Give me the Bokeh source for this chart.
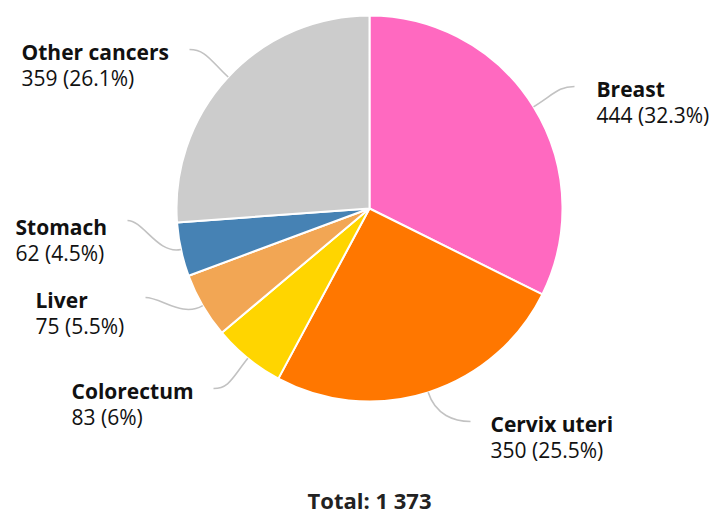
import math
from bokeh.plotting import figure
from bokeh.models import Range1d
from bokeh.embed import file_html
from bokeh.resources import INLINE
from bokeh.core.properties import value

# ---- data ----
categories = ["Breast", "Cervix uteri", "Colorectum", "Liver", "Stomach", "Other cancers"]
counts = [444, 350, 83, 75, 62, 359]
colors = ["#ff69c0", "#ff7700", "#ffd500", "#f2a654", "#4682b4", "#cccccc"]
total_prefix = "Total: "

# ---- layout (screen px) ----
W, H = 711, 516
CX, CY, R = 369, 208, 193
# text_x, name baseline y, connector end x, connector end y
label_layout = [
    (596, 88, 574, 86),
    (490, 423, 470, 421),
    (71, 390, 213, 388),
    (35, 299, 145, 297),
    (15, 226, 127, 220),
    (21, 51, 189, 49),
]
LINE_GAP = 26
FONT = "Open Sans"


def dx(sx):
    return sx


def dy(sy):
    return H - sy


total = sum(counts)


def fmt_pct(v):
    p = round(v / total * 100, 1)
    s = f"{p:.1f}"
    if s.endswith(".0"):
        s = s[:-2]
    return s + "%"


def fmt_total(n):
    s = f"{n:,}".replace(",", " ")
    return s


p = figure(width=W, height=H, output_backend="svg", toolbar_location=None,
           x_range=Range1d(0, W), y_range=Range1d(0, H), min_border=0)
p.axis.visible = False
p.grid.visible = False
p.outline_line_color = None
p.background_fill_color = "white"

starts, ends = [], []
cum = 0
for c in counts:
    a0 = math.pi / 2 - 2 * math.pi * cum / total
    cum += c
    a1 = math.pi / 2 - 2 * math.pi * cum / total
    starts.append(a0)
    ends.append(a1)

p.wedge(x=[dx(CX)] * len(counts), y=[dy(CY)] * len(counts), radius=R,
        start_angle=starts, end_angle=ends, direction="clock",
        fill_color=colors, line_color="white", line_width=2)

# connectors and labels
bx0, by0, bx1, by1, bcx0, bcy0, bcx1, bcy1 = [], [], [], [], [], [], [], []
name_x, name_y, name_t = [], [], []
val_t, val_y = [], []
cum = 0
for i, c in enumerate(counts):
    mid = (cum + c / 2) / total * 2 * math.pi
    cum += c
    ux, uy = math.sin(mid), -math.cos(mid)  # screen direction
    sx, sy = CX + R * ux, CY + R * uy
    tx, ty, ex, ey = label_layout[i]
    side = 1 if ex > sx else -1
    bx0.append(dx(sx)); by0.append(dy(sy))
    bcx0.append(dx(sx + 24 * ux)); bcy0.append(dy(sy + 24 * uy))
    bcx1.append(dx(ex - side * 16)); bcy1.append(dy(ey))
    bx1.append(dx(ex)); by1.append(dy(ey))
    name_x.append(dx(tx)); name_y.append(dy(ty)); name_t.append(categories[i])
    val_y.append(dy(ty + LINE_GAP)); val_t.append(f"{c} ({fmt_pct(c)})")

p.bezier(x0=bx0, y0=by0, x1=bx1, y1=by1, cx0=bcx0, cy0=bcy0, cx1=bcx1, cy1=bcy1,
         line_color="#c2c2c2", line_width=1.6)

p.text(x=name_x, y=name_y, text=name_t, text_font=value(FONT), text_font_style="bold",
       text_font_size="21px", text_color="#111111", text_baseline="alphabetic", text_align="left")
p.text(x=name_x, y=val_y, text=val_t, text_font=value(FONT), text_font_style="normal",
       text_font_size="21px", text_color="#111111", text_baseline="alphabetic", text_align="left")

p.text(x=[dx(CX)], y=[dy(499)], text=[total_prefix + fmt_total(total)], text_font=value(FONT),
       text_font_style="bold", text_font_size="22px", text_color="#222222",
       text_baseline="alphabetic", text_align="center")

open("out.html", "w").write(file_html(p, INLINE))
